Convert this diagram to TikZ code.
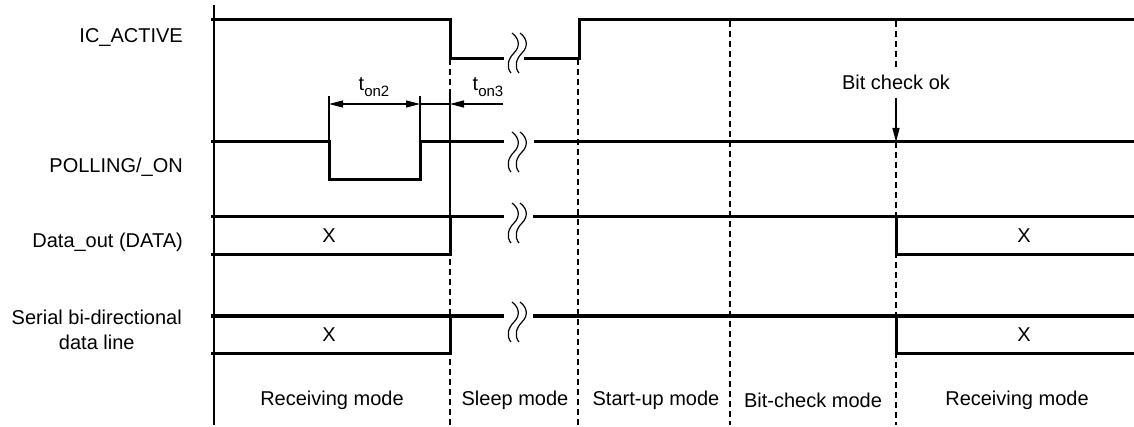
\documentclass[tikz,border=0pt]{standalone}
\usepackage{fontspec}
\setmainfont{Liberation Sans}
\usetikzlibrary{positioning,arrows.meta}

\begin{document}
\begin{tikzpicture}[
    x=1pt, y=-1pt,
    >={Triangle[length=14pt,width=7pt]},
    sig/.style={line width=3pt},
    thinln/.style={line width=1.3pt},
    guide/.style={line width=1.3pt, dash pattern=on 6pt off 4pt},
    label/.style={font=\fontsize{20}{25}\selectfont, inner sep=0pt},
    brk/.pic={
        \draw[line width=1.2pt] (5,0) .. controls (13,6) and (13,14) .. (7,20) .. controls (1,26) and (-1,34) .. (4,40);
        \draw[line width=1.2pt] (13,0) .. controls (21,6) and (21,14) .. (15,20) .. controls (9,26) and (7,34) .. (12,40);
    }
]
\useasboundingbox (0,0) rectangle (1134,427);
\fill[white] (0,0) rectangle (1134,427);

% === Signal names ===
\node[label, anchor=east] (sIC) at (183,38) {IC\_ACTIVE};
\node[label, anchor=east] (sPOLL) at (183,167) {POLLING/\_ON};
\node[label, anchor=east] (sDATA) at (183,242) {Data\_out (DATA)};
\node[label, anchor=east, align=center] (sSER) at (182,330) {Serial bi-directional\\data line};

% === Guides ===
\draw[thinln] (214,5) -- (214,425);
\foreach \x/\ytop in {450/59, 578/59, 730/21} {
    \draw[guide] (\x,\ytop) -- (\x,425);
}
\draw[thinln] (450,95) -- (450,217);

% Bit check marker
\node[label] (bitok) at (896,82) {Bit check ok};
\coordinate (bitpt) at (896,142);
\draw[guide] (896,21) -- ([yshift=6pt]bitok.north);
\draw[->, thinln] ([yshift=-8pt]bitok.south) -- (bitpt);
\draw[guide] (bitpt) -- (896,425);

% === Timing arrows ===
\coordinate (t2a) at (329,104);
\coordinate (t2b) at (420,104);
\coordinate (t3a) at (450,104);
\coordinate (t3b) at (503,104);
\draw[thinln] (329,96) -- (329,142);
\draw[thinln] (420,96) -- (420,142);
\draw[<->, thinln] (t2a) -- (t2b);
\draw[thinln] (t2b) -- (t3a);
\draw[->, thinln] (t3b) -- (t3a);
\node[label, anchor=base] (ton2) at (374,91) {t\raisebox{-6pt}{\fontsize{15}{15}\selectfont on2}};
\node[label, anchor=base] (ton3) at (488,91) {t\raisebox{-6pt}{\fontsize{15}{15}\selectfont on3}};

% === IC_ACTIVE ===
\draw[sig] (211,20) -- (450,20) -- (450,59) -- (504,59);
\draw[sig] (524,59) -- (579,59) -- (579,20) -- (1134,20);
\pic at (507,33) {brk};

% === POLLING/_ON ===
\draw[sig] (211,142) -- (329,142) -- (329,180) -- (420,180) -- (420,142) -- (504,142);
\draw[sig] (534,142) -- (1134,142);
\pic at (507,132) {brk};

% === Data lines ===
\foreach \hi/\lo/\nm in {217/255/DATA, 316/353/SER} {
    \draw[sig] (211,\hi) -- (504,\hi);
    \draw[sig] (533,\hi) -- (1134,\hi);
    \draw[sig] (211,\lo) -- (450,\lo) -- (450,\hi);
    \draw[sig] (1134,\lo) -- (896,\lo) -- (896,\hi);
    \pic at (507,\hi-14) {brk};
    \node[label] (x\nm1) at (329,{(\hi+\lo)/2}) {X};
    \node[label] (x\nm2) at (1024,{(\hi+\lo)/2}) {X};
}

% === Modes ===
\node[label] (mRecv1) at (332,400) {Receiving mode};
\node[label] (mSleep) at (515,400) {Sleep mode};
\node[label] (mStart) at (656,400) {Start-up mode};
\node[label] (mBit) at (813,400) {Bit-check mode};
\node[label] (mRecv2) at (1017,400) {Receiving mode};
\end{tikzpicture}
\end{document}
